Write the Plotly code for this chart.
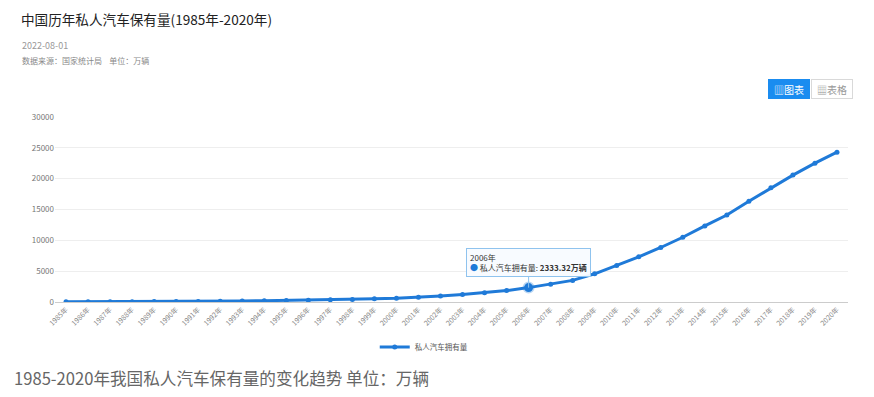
import plotly.graph_objects as go

years = [f"{y}年" for y in range(1985, 2021)]
values = [28.49, 34.71, 42.29, 60.42, 73.12, 81.62, 96.04, 118.2, 155.77, 205.42,
          249.96, 289.67, 358.36, 423.65, 533.88, 625.33, 770.78, 968.98, 1219.23, 1481.66,
          1848.07, 2333.32, 2876.22, 3501.39, 4574.91, 5938.71, 7326.79, 8838.6, 10501.68, 12339.36,
          14099.1, 16330.22, 18515.11, 20574.93, 22508.99, 24291.19]
series_name = "私人汽车拥有量"
y_ticks = [0, 5000, 10000, 15000, 20000, 25000, 30000]
hl_index = years.index("2006年")

FONT = "Noto Sans CJK SC, Noto Sans, sans-serif"
BLUE = "#1f7ad8"

W, H = 874, 397
L, R, T, B = 55, 26, 117, 95
pw, ph = W - L - R, H - T - B

def px(x):
    return (x - L) / pw

def py(y):
    return (H - B - y) / ph

fig = go.Figure()
fig.add_trace(go.Scatter(
    x=years, y=values, mode="lines+markers", name=series_name,
    line=dict(color=BLUE, width=3), marker=dict(color=BLUE, size=5),
))
fig.add_trace(go.Scatter(
    x=[years[hl_index]], y=[values[hl_index]], mode="markers", showlegend=False,
    marker=dict(color=BLUE, size=9, line=dict(color="rgba(31,122,216,0.3)", width=3)),
))

annotations = [
    dict(text="中国历年私人汽车保有量(1985年-2020年)", xref="paper", yref="paper",
         x=px(19), y=py(19), xanchor="left", yanchor="middle", showarrow=False,
         font=dict(family=FONT, size=13.6, color="#222")),
    dict(text="2022-08-01", xref="paper", yref="paper",
         x=px(20), y=py(46), xanchor="left", yanchor="middle", showarrow=False,
         font=dict(family=FONT, size=9, color="#999")),
    dict(text="数据来源：国家统计局    单位：万辆", xref="paper", yref="paper",
         x=px(20), y=py(60), xanchor="left", yanchor="middle", showarrow=False,
         font=dict(family=FONT, size=8, color="#888")),
    dict(text="1985-2020年我国私人汽车保有量的变化趋势 单位：万辆", xref="paper", yref="paper",
         x=px(12), y=py(378), xanchor="left", yanchor="middle", showarrow=False,
         font=dict(family=FONT, size=16.6, color="#666")),
    dict(text="▥图表", xref="paper", yref="paper",
         x=px(789), y=py(89), xanchor="center", yanchor="middle", showarrow=False,
         width=38, height=16, bgcolor="#1a8cf0", bordercolor="#1a8cf0", borderwidth=1,
         font=dict(family=FONT, size=10, color="white")),
    dict(text="▦表格", xref="paper", yref="paper",
         x=px(832), y=py(89), xanchor="center", yanchor="middle", showarrow=False,
         width=38, height=16, bgcolor="white", bordercolor="#d9d9d9", borderwidth=1,
         font=dict(family=FONT, size=10, color="#999")),
    dict(text=f"{years[hl_index]}<br><span style='color:{BLUE}'>●</span> {series_name}: <b>{values[hl_index]:.2f}万辆</b>",
         x=years[hl_index], y=values[hl_index], xref="x", yref="y",
         showarrow=True, arrowhead=0, arrowwidth=1, arrowcolor="#8fc3ee",
         ax=0, ay=-11, xanchor="center", yanchor="bottom", align="left",
         bgcolor="rgba(248,251,255,0.95)", bordercolor="#8fc3ee", borderwidth=1, borderpad=3,
         font=dict(family=FONT, size=8, color="#333")),
]

fig.update_layout(
    width=W, height=H,
    margin=dict(l=L, r=R, t=T, b=B),
    paper_bgcolor="white", plot_bgcolor="white",
    font=dict(family=FONT),
    showlegend=True,
    legend=dict(orientation="h", x=0.465, xanchor="center", y=py(347), yanchor="middle",
                font=dict(family=FONT, size=7.5, color="#555"), bgcolor="rgba(0,0,0,0)"),
    annotations=annotations,
    xaxis=dict(type="category", range=[-0.5, len(years) - 0.5], showgrid=False,
               showline=True, linecolor="#ccc", linewidth=1, ticks="",
               tickangle=-45, tickfont=dict(family=FONT, size=7, color="#888")),
    yaxis=dict(range=[0, 30000], tickvals=y_ticks, tickformat="d", showgrid=True,
               gridcolor="#eeeeee", zeroline=False, showline=False, ticks="",
               tickfont=dict(family=FONT, size=8, color="#777")),
)

fig.write_html("out.html", config={"displayModeBar": False},
               post_script="document.body.style.margin='0px';")
